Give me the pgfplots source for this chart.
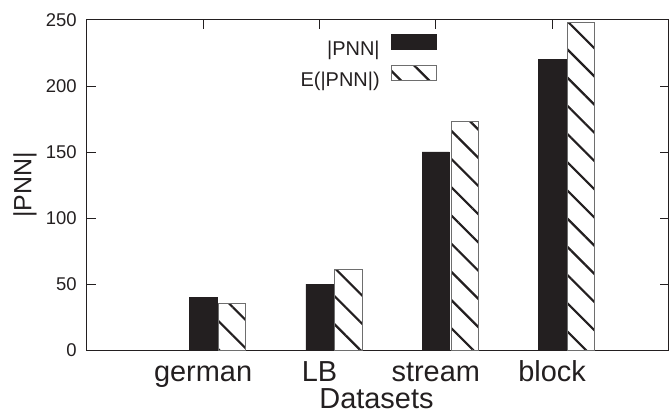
\documentclass[border=0pt]{standalone}
\usepackage{fontspec}
\setmainfont{Liberation Sans}
\usepackage{pgfplots}
\pgfplotsset{compat=1.18}
\usetikzlibrary{patterns.meta}
\definecolor{ink}{RGB}{35,31,32}
\definecolor{edge}{RGB}{110,110,110}
\pgfplotsset{boxlegend/.style={legend image code/.code={\draw[##1] (0bp,0bp) rectangle (45bp,14.5bp);}}}

\begin{document}
\begin{tikzpicture}
\begin{axis}[
    scale only axis,
    width=583.3bp,
    height=331bp,
    xmin=-1, xmax=4,
    ymin=0, ymax=250,
    xtick={0,1,2,3},
    xticklabels={german,LB,stream,block},
    ytick={0,50,100,150,200,250},
    xtick pos=right,
    xticklabel pos=left,
    tick align=inside,
    major tick length=9bp,
    axis line style={draw=ink, line width=1bp},
    every tick/.style={draw=ink, line width=0.9bp},
    /pgf/number format/assume math mode=true,
    xticklabel style={font=\fontsize{29bp}{32bp}\selectfont, text=ink, anchor=base, yshift=-32bp},
    yticklabel style={font=\fontsize{18.5bp}{20bp}\selectfont, text=ink, anchor=east, inner sep=0pt, xshift=-10bp},
    xlabel={Datasets},
    xlabel style={font=\fontsize{29bp}{32bp}\selectfont, text=ink, inner sep=0pt, at={(axis description cs:0.498,-0.1782)}, anchor=base},
    ylabel={|PNN|},
    ylabel style={font=\fontsize{25bp}{28bp}\selectfont, text=ink, at={(axis description cs:-0.1063,0.5)}, anchor=center},
    legend plot pos=right,
    legend cell align=right,
    legend style={
        draw=none, fill=none,
        at={(axis description cs:0.6017,0.9577)},
        anchor=north east,
        font=\fontsize{20bp}{22bp}\selectfont,
        text=ink,
        inner sep=0pt,
        row sep=7.5bp,
        column sep=10bp,
        nodes={inner sep=1bp},
    },
]

% |PNN|
\addplot[ybar, bar width=0.235, bar shift=0pt, fill=ink, draw=ink, boxlegend]
coordinates {(0,40) (1,50) (2,150) (3,220)};

% E(|PNN|)
\addplot[ybar, bar width=0.235, bar shift=0pt, draw=edge, line width=1.1bp,
    pattern={Lines[angle=-45,distance=20bp,line width=2.2bp]}, pattern color=ink, boxlegend]
coordinates {(0.25,35) (1.25,61) (2.25,173) (3.25,248)};

\legend{|PNN|, E(|PNN|)}
\end{axis}
\path ([xshift=-87bp,yshift=-63bp]current axis.south west) rectangle ([yshift=20bp]current axis.north east);
\end{tikzpicture}
\end{document}
